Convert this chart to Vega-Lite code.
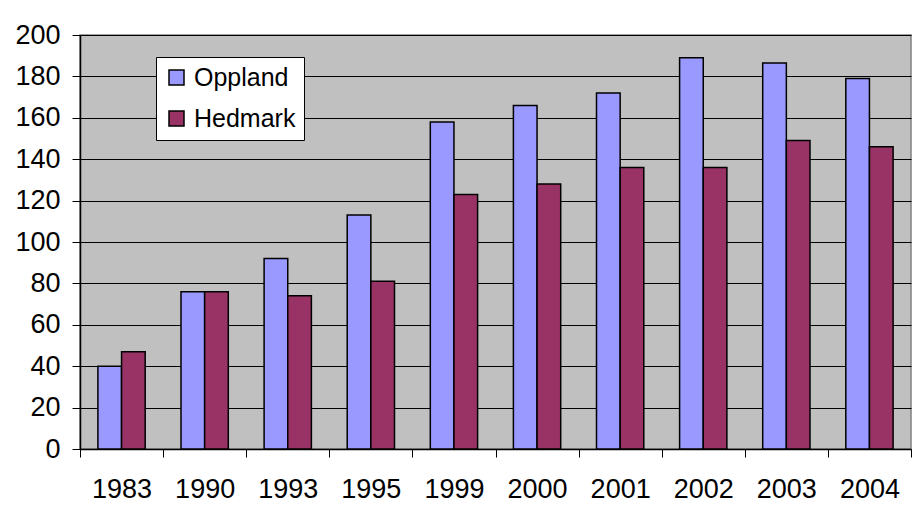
{
  "$schema": "https://vega.github.io/schema/vega-lite/v6.json",
  "width": 831,
  "height": 414,
  "autosize": {"type": "none"},
  "padding": {"left": 80, "top": 35, "right": 6, "bottom": 57},
  "background": "white",
  "config": {
    "font": "Liberation Sans",
    "view": {"fill": "#C0C0C0", "stroke": "#808080", "strokeWidth": 1.5}
  },
  "data": {
    "values": [
      {"year": "1983", "county": "Oppland", "value": 40},
      {"year": "1983", "county": "Hedmark", "value": 47},
      {"year": "1990", "county": "Oppland", "value": 76},
      {"year": "1990", "county": "Hedmark", "value": 76},
      {"year": "1993", "county": "Oppland", "value": 92},
      {"year": "1993", "county": "Hedmark", "value": 74},
      {"year": "1995", "county": "Oppland", "value": 113},
      {"year": "1995", "county": "Hedmark", "value": 81},
      {"year": "1999", "county": "Oppland", "value": 158},
      {"year": "1999", "county": "Hedmark", "value": 123},
      {"year": "2000", "county": "Oppland", "value": 166},
      {"year": "2000", "county": "Hedmark", "value": 128},
      {"year": "2001", "county": "Oppland", "value": 172},
      {"year": "2001", "county": "Hedmark", "value": 136},
      {"year": "2002", "county": "Oppland", "value": 189},
      {"year": "2002", "county": "Hedmark", "value": 136},
      {"year": "2003", "county": "Oppland", "value": 186.5},
      {"year": "2003", "county": "Hedmark", "value": 149},
      {"year": "2004", "county": "Oppland", "value": 179},
      {"year": "2004", "county": "Hedmark", "value": 146}
    ]
  },
  "mark": {"type": "bar", "stroke": "black", "strokeWidth": 1.5},
  "encoding": {
    "x": {
      "field": "year",
      "type": "nominal",
      "scale": {"paddingInner": 0, "paddingOuter": 0},
      "axis": {
        "title": null,
        "labelAngle": 0,
        "labelFontSize": 27,
        "labelColor": "black",
        "labelPadding": 19,
        "tickBand": "extent",
        "tickColor": "black",
        "tickSize": 8,
        "tickWidth": 1,
        "domainColor": "black",
        "domainWidth": 1.5,
        "grid": false
      }
    },
    "xOffset": {
      "field": "county",
      "type": "nominal",
      "scale": {"domain": ["Oppland", "Hedmark"], "paddingInner": 0, "paddingOuter": 0.757}
    },
    "y": {
      "field": "value",
      "type": "quantitative",
      "scale": {"domain": [0, 200], "nice": false},
      "axis": {
        "title": null,
        "values": [0, 20, 40, 60, 80, 100, 120, 140, 160, 180, 200],
        "labelFontSize": 27,
        "labelColor": "black",
        "labelPadding": 12,
        "tickColor": "black",
        "tickSize": 8,
        "tickWidth": 1,
        "domainColor": "black",
        "domainWidth": 1.5,
        "grid": true,
        "gridColor": "black",
        "gridWidth": 1
      }
    },
    "color": {
      "field": "county",
      "type": "nominal",
      "scale": {"domain": ["Oppland", "Hedmark"], "range": ["#9999FF", "#993366"]},
      "legend": {
        "title": null,
        "orient": "none",
        "legendX": 76,
        "legendY": 22,
        "direction": "vertical",
        "fillColor": "white",
        "strokeColor": "black",
        "padding": 8,
        "cornerRadius": 0,
        "symbolType": "square",
        "symbolSize": 225,
        "symbolStrokeColor": "black",
        "symbolStrokeWidth": 1.5,
        "symbolOpacity": 1,
        "labelFontSize": 25,
        "labelColor": "black",
        "labelOffset": 5,
        "rowPadding": 15
      }
    }
  }
}
